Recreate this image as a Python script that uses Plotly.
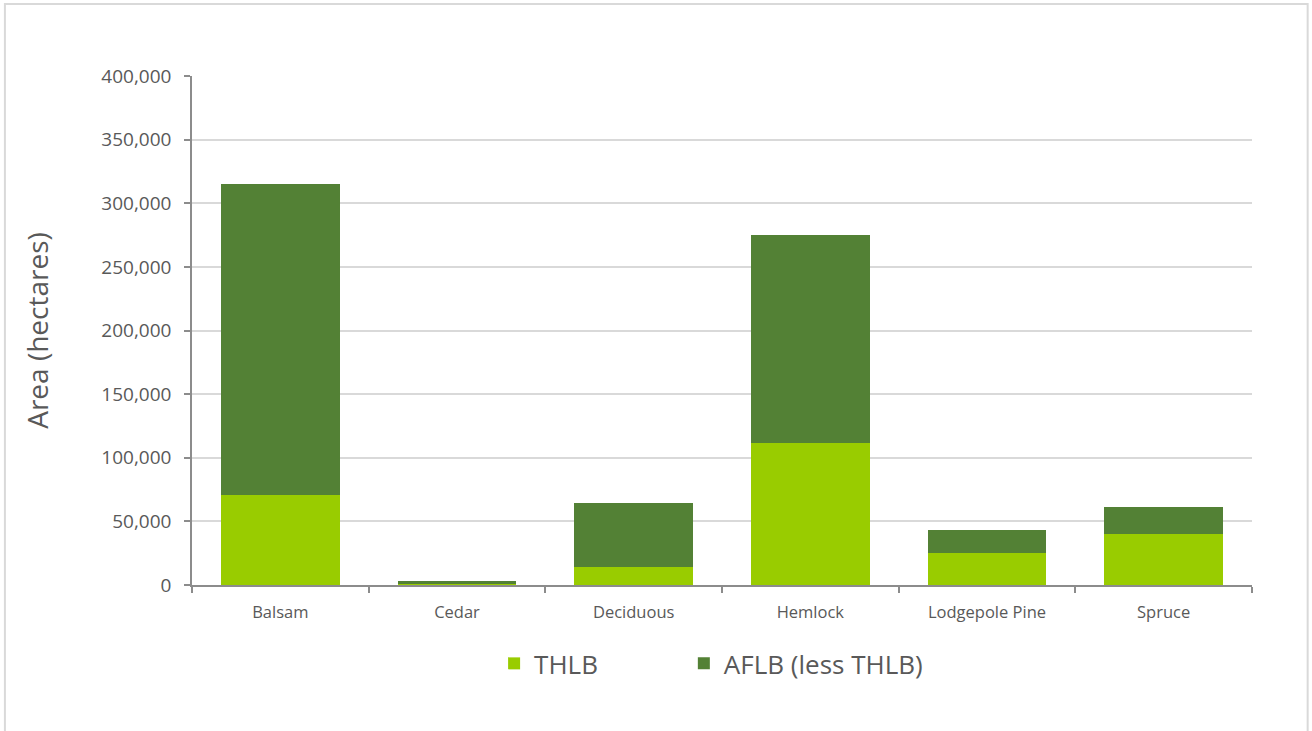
import plotly.graph_objects as go

species = ["Balsam", "Cedar", "Deciduous", "Hemlock", "Lodgepole Pine", "Spruce"]
thlb = [71000, 1000, 14400, 111300, 25400, 40300]
aflb_less_thlb = [244000, 2000, 49800, 163700, 17800, 21200]
y_ticks = [0, 50000, 100000, 150000, 200000, 250000, 300000, 350000, 400000]
y_tick_text = ["0", "50,000", "100,000", "150,000", "200,000", "250,000",
               "300,000", "350,000", "400,000"]

TEXT = "#595959"
FONT = "Open Sans"

fig = go.Figure()
fig.add_trace(go.Bar(x=species, y=thlb, name="THLB", legend="legend",
                     marker=dict(color="#99cc00", line=dict(width=0))))
fig.add_trace(go.Bar(x=species, y=aflb_less_thlb, name="AFLB (less THLB)",
                     legend="legend2",
                     marker=dict(color="#538135", line=dict(width=0))))

legend_style = dict(orientation="h", xanchor="left", y=-0.108, yanchor="top",
                    font=dict(size=26, color=TEXT), bgcolor="rgba(0,0,0,0)")

fig.update_layout(
    barmode="stack",
    bargap=0.33,
    width=1312, height=731,
    margin=dict(l=192, r=60, t=76, b=146),
    paper_bgcolor="white",
    plot_bgcolor="white",
    font=dict(family=FONT, color=TEXT),
    showlegend=True,
    legend=dict(x=0.285, **legend_style),
    legend2=dict(x=0.464, **legend_style),
    xaxis=dict(
        showline=True, linecolor="#8c8c8c", linewidth=1.5,
        ticks="outside", tickson="boundaries", ticklen=6, tickcolor="#8c8c8c",
        tickwidth=1.5, tickfont=dict(size=16.5, color=TEXT), showgrid=False,
        ticklabelstandoff=11,
    ),
    yaxis=dict(
        range=[0, 400000], tickvals=y_ticks, ticktext=y_tick_text,
        showline=True, linecolor="#8c8c8c", linewidth=1.5,
        ticks="outside", ticklen=6, tickcolor="#8c8c8c", tickwidth=1.5,
        showgrid=True, gridcolor="#d9d9d9", gridwidth=1.5, zeroline=False,
        tickfont=dict(size=19, color=TEXT), ticklabelstandoff=9,
        title=dict(text="Area (hectares)", font=dict(size=28, color=TEXT), standoff=45),
    ),
    shapes=[dict(type="rect", xref="paper", yref="paper",
                 x0=-0.1765, x1=1.0525, y0=-0.4, y1=1.1415,
                 line=dict(color="#d9d9d9", width=2), layer="below")],
)

fig.write_html("out.html")
